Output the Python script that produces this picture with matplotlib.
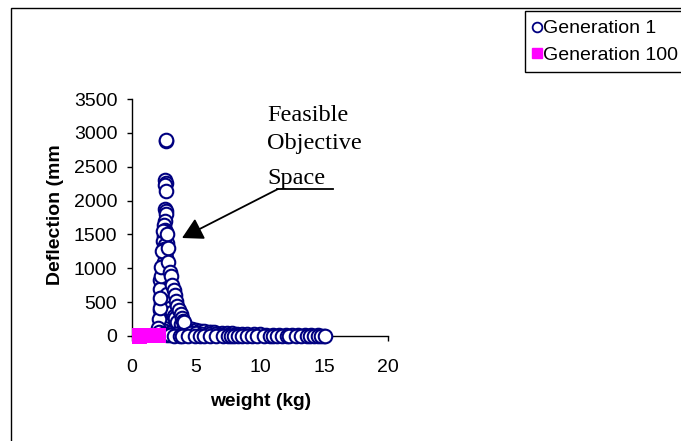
import matplotlib
matplotlib.use("Agg")
import matplotlib.pyplot as plt
from matplotlib.lines import Line2D
from matplotlib.patches import Rectangle

# ---------------- data ----------------
gen1_weight = [
    2.65, 2.62, 2.58, 2.62, 2.60, 2.64, 2.58, 2.66, 2.62, 2.55, 2.50, 2.58, 2.65,
    2.52, 2.45, 2.70, 2.55, 2.48, 2.62, 2.58, 2.66, 2.52, 2.64, 2.60, 2.56, 2.40,
    2.48, 2.62, 2.70, 2.85, 3.00, 2.35, 2.90, 2.55, 3.05, 2.30, 2.75, 2.42, 3.10,
    2.85, 2.25, 2.60, 3.20, 2.40, 2.95, 3.30, 2.28, 2.70, 3.15, 2.50, 3.45, 2.20,
    2.85, 3.40, 2.35, 3.60, 2.65, 3.05, 2.20, 3.75, 2.45, 3.25, 2.90, 3.95, 2.15,
    2.60, 3.50, 4.20, 2.35, 2.80, 3.10, 4.50, 2.25, 3.70, 4.80, 5.10, 5.40, 5.80,
    6.20, 6.60, 7.00, 7.40, 7.80, 8.20, 8.60, 9.00, 9.50, 10.0, 10.5, 11.0, 11.5,
    12.0, 12.5, 13.0, 13.5, 14.0, 14.5, 15.0,
    2.18, 2.22, 2.26, 2.30, 2.34, 2.38, 2.44, 2.50, 2.56, 2.70, 2.80, 2.95, 3.10,
    3.25, 3.35, 3.55, 3.85, 4.05, 4.35, 4.65, 5.00, 5.25, 5.60, 6.00, 6.40,
    2.10, 2.15, 2.20, 2.25, 2.30, 2.35, 2.40, 2.75, 2.80, 2.85, 2.95, 3.05, 3.15,
    3.25, 3.35, 3.45, 3.55, 3.65, 3.80, 3.90, 4.00, 4.10, 2.05, 2.10, 2.40, 2.90,
    3.40, 3.80, 4.20, 4.60, 5.00, 5.50, 6.00, 6.50, 7.00, 7.50, 8.00,
    2.55, 2.75, 3.00, 3.30, 3.75, 3.90, 4.40, 4.90, 5.30, 5.60, 6.10, 6.60, 7.10,
    7.50, 7.70, 8.00, 8.30, 8.60, 9.00, 9.40, 9.80, 10.3, 10.8, 11.0, 11.3, 11.7,
    12.1, 12.3, 12.8, 13.2, 13.7, 13.9, 14.2, 14.5, 14.8, 15.1,
]
gen1_deflection = [
    2880, 2900, 2300, 2260, 2230, 2140, 1880, 1840, 1800, 1700, 1640, 1560, 1540,
    1480, 1400, 1380, 1340, 1280, 1260, 1200, 1150, 1100, 1060, 1040, 1000, 950,
    920, 900, 850, 820, 790, 780, 760, 740, 720, 700, 680, 650, 640,
    620, 600, 580, 560, 540, 520, 500, 480, 460, 440, 420, 400, 380,
    360, 340, 320, 300, 280, 270, 260, 240, 220, 210, 190, 180, 160,
    150, 140, 130, 110, 100, 90, 100, 60, 70, 85, 75, 70, 60,
    55, 50, 45, 42, 38, 35, 32, 30, 27, 25, 22, 20, 18,
    16, 14, 12, 10, 9, 8, 7,
    820, 700, 560, 430, 330, 250, 180, 120, 80, 620, 500, 420, 360,
    300, 260, 210, 170, 150, 120, 100, 90, 80, 70, 62, 55,
    250, 420, 560, 880, 1020, 1250, 1550, 1500, 1300, 1100, 950, 880, 760,
    680, 600, 520, 450, 380, 320, 260, 220, 200, 120, 60, 30, 40,
    30, 20, 15, 40, 50, 35, 30, 25, 20, 18, 15,
    30, 20, 10, 5, 0, 0, 0, 0, 0, 0, 0, 0, 0,
    0, 0, 0, 0, 0, 0, 0, 0, 0, 0, 0, 0, 0,
    0, 0, 0, 0, 0, 0, 0, 0, 0, 0,
]
gen100_weight = [0.60, 0.75, 0.90, 1.05, 1.20, 1.35, 1.50, 1.65, 1.80, 1.95, 2.05]
gen100_deflection = [0, 2, 1, 3, 2, 4, 3, 5, 4, 6, 5]

x_ticks = [0, 5, 10, 15, 20]
y_ticks = [0, 500, 1000, 1500, 2000, 2500, 3000, 3500]
series_labels = ["Generation 1", "Generation 100"]

# ---------------- figure ----------------
W, H = 681, 441
fig = plt.figure(figsize=(W / 100, H / 100), dpi=100)
fig.patch.set_facecolor("white")

SANS = "Liberation Sans"
SERIF = "Liberation Serif"
NAVY = "#000080"
MAGENTA = "#FF00FF"


def px(x, y):
    return (x / W, 1 - y / H)


ax_left, ax_right, ax_y0, ax_ytop = 132, 388, 336, 99
ax = fig.add_axes([ax_left / W, (H - ax_y0) / H,
                   (ax_right - ax_left) / W, (ax_y0 - ax_ytop) / H])
ax.set_facecolor("none")

ax.scatter(gen1_weight, gen1_deflection, s=95, marker="o",
           facecolors="white", edgecolors=NAVY, linewidths=1.5,
           clip_on=False, zorder=3)
ax.scatter(gen100_weight, gen100_deflection, s=118, marker="s",
           facecolors=MAGENTA, edgecolors="none", linewidths=0,
           clip_on=False, zorder=4)

ax.set_xlim(0, 20)
ax.set_ylim(0, 3500)
ax.set_xticks(x_ticks)
ax.set_yticks(y_ticks)
for s in ["top", "right"]:
    ax.spines[s].set_visible(False)
for s in ["left", "bottom"]:
    ax.spines[s].set_linewidth(1.0)
    ax.spines[s].set_color("black")
ax.tick_params(axis="both", direction="out", length=3.6, width=1.0,
               colors="black", labelsize=14)
ax.tick_params(axis="x", pad=13)
ax.tick_params(axis="y", pad=7)
for lab in ax.get_xticklabels() + ax.get_yticklabels():
    lab.set_fontfamily(SANS)

ax.set_xlabel("weight (kg)", fontfamily=SANS, fontsize=13.8,
              fontweight="bold", va="center")
ax.xaxis.set_label_coords(0.504, -(401 - ax_y0) / (ax_y0 - ax_ytop))
ax.set_ylabel("Deflection (mm", fontfamily=SANS, fontsize=14,
              fontweight="bold", va="center")
ax.yaxis.set_label_coords((55 - ax_left) / (ax_right - ax_left),
                          (ax_y0 - 215) / (ax_y0 - ax_ytop))

# annotation text (serif)
for txt, yb in [("Feasible", 121), ("Objective", 149), ("Space", 184)]:
    fig.text(*px(267, yb), txt, fontfamily=SERIF, fontsize=17.5,
             ha="left", va="baseline", color="black")

# underline + arrow
fig.add_artist(Line2D([277 / W, 333 / W], [1 - 189 / H, 1 - 189 / H],
                      color="black", lw=1.3))
ax.annotate("", xy=px(182, 238), xycoords="figure fraction",
            xytext=px(278, 189), textcoords="figure fraction",
            arrowprops=dict(arrowstyle="-|>,head_length=0.9,head_width=0.5",
                            color="black", lw=1.3, shrinkA=0, shrinkB=0,
                            mutation_scale=14))

# outer border (chart area)
fig.add_artist(Rectangle(px(11, 8 + 600), 900 / W, 600 / H,
                         transform=fig.transFigure, fill=False,
                         edgecolor="black", lw=1.0))

# legend
handles = [
    Line2D([], [], ls="none", marker="o", markersize=7,
           markerfacecolor="white", markeredgecolor=NAVY, markeredgewidth=1.3),
    Line2D([], [], ls="none", marker="s", markersize=7.5,
           markerfacecolor=MAGENTA, markeredgecolor=MAGENTA),
]
leg = fig.legend(handles, series_labels, loc="upper left",
                 bbox_to_anchor=px(525, 11), bbox_transform=fig.transFigure,
                 prop={"family": SANS, "size": 14}, frameon=True,
                 fancybox=False, shadow=False, framealpha=1,
                 edgecolor="black", borderpad=0.45, labelspacing=0.45,
                 handlelength=0.3, handletextpad=0.2, borderaxespad=0)
leg.get_frame().set_linewidth(1.0)

fig.savefig("out.png", dpi=100, facecolor="white")
